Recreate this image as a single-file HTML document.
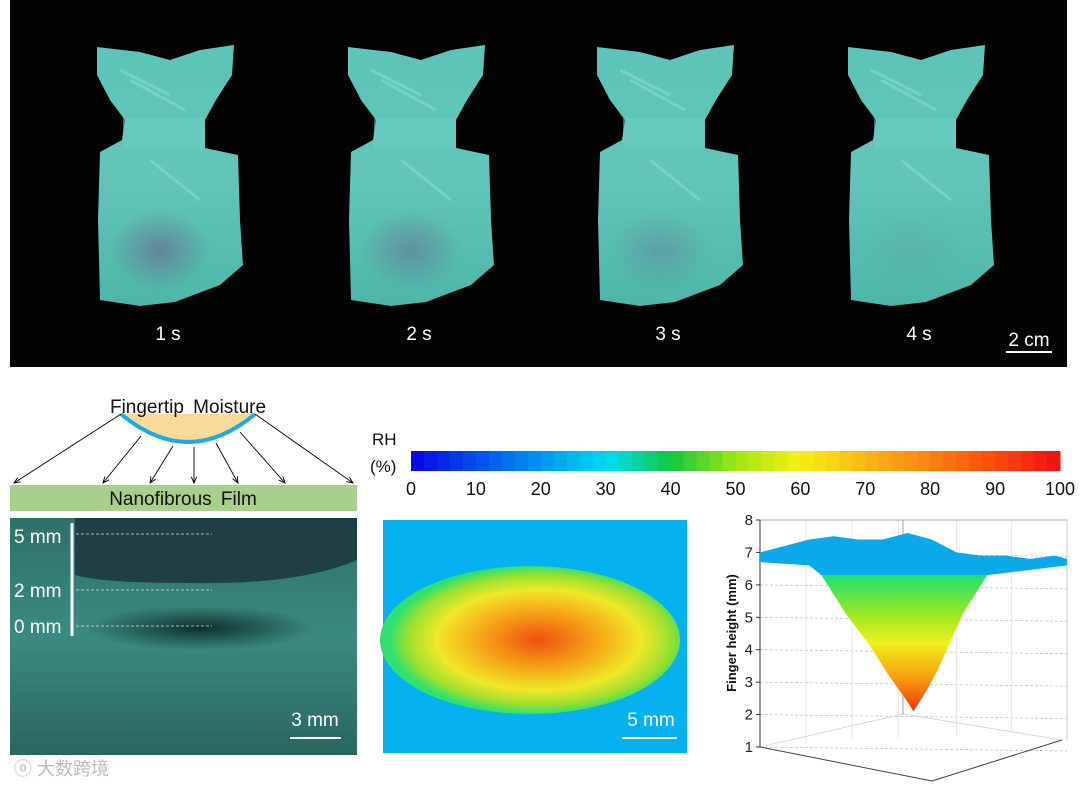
<!DOCTYPE html>
<html><head><meta charset="utf-8">
<style>
html,body{margin:0;padding:0;background:#fff;}
body{width:1080px;height:787px;position:relative;overflow:hidden;font-family:"Liberation Sans",Arial,sans-serif;}
svg{position:absolute;left:0;top:0;}
</style></head>
<body>
<svg id="fig" width="1080" height="787" viewBox="0 0 1080 787">
<defs>
<linearGradient id="bagG" x1="0" y1="0" x2="0" y2="1">
<stop offset="0" stop-color="#5cc4b8"/><stop offset="0.5" stop-color="#62c6b9"/><stop offset="1" stop-color="#4db6a9"/>
</linearGradient>
<radialGradient id="blob" cx="0.5" cy="0.5" r="0.5">
<stop offset="0" stop-color="#6a6a8a" stop-opacity="0.75"/><stop offset="1" stop-color="#6a6a8a" stop-opacity="0"/>
</radialGradient>
<linearGradient id="photoG" x1="0" y1="0" x2="0" y2="1">
<stop offset="0" stop-color="#2e7068"/><stop offset="0.5" stop-color="#3a8a80"/><stop offset="1" stop-color="#2a6660"/>
</linearGradient>
<radialGradient id="darkSpot" cx="0.5" cy="0.5" r="0.5">
<stop offset="0" stop-color="#0d2a26" stop-opacity="0.95"/><stop offset="1" stop-color="#0d2a26" stop-opacity="0"/>
</radialGradient>
<radialGradient id="heatG" cx="0.53" cy="0.5" r="0.5">
<stop offset="0" stop-color="#ee5010"/><stop offset="0.4" stop-color="#f6a818"/><stop offset="0.68" stop-color="#f0e828"/><stop offset="0.88" stop-color="#9ae030"/><stop offset="1" stop-color="#30e070"/>
</radialGradient>
<linearGradient id="vG" x1="0" y1="0" x2="0" y2="1">
<stop offset="0" stop-color="#20e070"/><stop offset="0.3" stop-color="#a0e820"/><stop offset="0.5" stop-color="#f0f020"/><stop offset="0.75" stop-color="#f8a010"/><stop offset="1" stop-color="#f03010"/>
</linearGradient>
<marker id="arr" markerWidth="8" markerHeight="8" refX="7" refY="4" orient="auto"><path d="M0,1 L7,4 L0,7" fill="none" stroke="#000" stroke-width="1"/></marker>
</defs>

<rect x="10" y="0" width="1057" height="367" fill="#030303"/>
<g id="bags"></g>
<line x1="1006" y1="352" x2="1052" y2="352" stroke="#fff" stroke-width="2"/>
<text x="1029" y="346" fill="#fff" font-size="19" text-anchor="middle">2 cm</text>

<g>
<rect x="10" y="485" width="347" height="26" fill="#a8d08c"/>
<text x="183" y="505" font-size="19" text-anchor="middle" fill="#111" word-spacing="4">Nanofibrous Film</text>
<path d="M121,414 Q188,470 255,414 Z" fill="#f8da9a"/>
<path d="M121,414 Q188,470 255,414" fill="none" stroke="#1ea8e8" stroke-width="4"/>
<text x="188" y="413" font-size="19" text-anchor="middle" fill="#111" word-spacing="4">Fingertip Moisture</text>
<g stroke="#000" stroke-width="0.9" marker-end="url(#arr)">
<line x1="121" y1="414" x2="14" y2="483"/>
<line x1="141" y1="436" x2="103" y2="483"/>
<line x1="173" y1="446" x2="150" y2="483"/>
<line x1="194" y1="447" x2="194" y2="483"/>
<line x1="216" y1="443" x2="238" y2="483"/>
<line x1="240" y1="432" x2="285" y2="483"/>
<line x1="255" y1="414" x2="353" y2="483"/>
</g>
</g>

<g>
<rect x="10" y="518" width="347" height="237" fill="url(#photoG)"/>
<path d="M75,518 L357,518 L357,560 Q300,585 190,583 Q100,583 75,575 Z" fill="#1f3f45"/>
<ellipse cx="200" cy="628" rx="115" ry="22" fill="url(#darkSpot)"/>
<line x1="72" y1="523" x2="72" y2="636" stroke="#fff" stroke-width="3"/>
<g stroke="#ddd" stroke-width="0.8" stroke-dasharray="3,2">
<line x1="76" y1="534" x2="212" y2="534"/><line x1="76" y1="590" x2="212" y2="590"/><line x1="76" y1="626" x2="212" y2="626"/>
</g>
<g fill="#fff" font-size="19">
<text x="14" y="543">5 mm</text><text x="14" y="597">2 mm</text><text x="14" y="633">0 mm</text>
<text x="315" y="726" text-anchor="middle">3 mm</text>
</g>
<line x1="290" y1="738" x2="341" y2="738" stroke="#fff" stroke-width="2"/>
<text x="14" y="775" fill="#bbb" font-size="18" font-family="'Liberation Sans','Noto Sans CJK SC',sans-serif">ⓞ 大数跨境</text>
</g>

<g id="cbar"></g>
<text x="372" y="445" font-size="17" fill="#111">RH</text>
<text x="370" y="472" font-size="17" fill="#111">(%)</text>

<g>
<rect x="383" y="520" width="304" height="233" fill="#05b1ee"/>
<ellipse cx="530" cy="640" rx="150" ry="74" fill="url(#heatG)"/>
<line x1="622" y1="738" x2="677" y2="738" stroke="#fff" stroke-width="2"/>
<text x="651" y="726" fill="#fff" font-size="19" text-anchor="middle">5 mm</text>
</g>

<g id="chart3d"></g>
</svg>
<script>
var timeLabels = ["1 s","2 s","3 s","4 s"];
var blobOpacity = [0.9, 0.7, 0.45, 0.15];
var rhTicks = [0,10,20,30,40,50,60,70,80,90,100];
var heightTicks = [1,2,3,4,5,6,7,8];
var profileX   = [0,0.08,0.16,0.24,0.32,0.40,0.48,0.52,0.56,0.64,0.72,0.80,0.88,0.96,1];
var topHeight  = [7.0,7.2,7.4,7.5,7.4,7.4,7.6,7.5,7.4,7.0,6.9,6.9,6.8,6.9,6.8];
var vX       = [0.20,0.28,0.36,0.42,0.48,0.50,0.54,0.58,0.66,0.74];
var vHeight  = [6.3,5.1,4.1,3.2,2.4,2.1,2.7,3.4,5.1,6.3];
var NS="http://www.w3.org/2000/svg";
function mk(tag,attrs,parent){var e=document.createElementNS(NS,tag);for(var k in attrs)e.setAttribute(k,attrs[k]);parent.appendChild(e);return e;}

var bags=document.getElementById('bags');
var bagPath="M97,47 L140,52 L170,60 L200,50 L234,45 L232,75 L216,100 L205,120 L205,148 L238,155 L240,220 L243,265 L220,285 L175,302 L140,306 L100,300 L98,220 L100,152 L122,140 L125,120 L110,100 L97,75 Z";
var bagOffsets=[0,251,500,751];
timeLabels.forEach(function(lbl,i){
  var g=mk('g',{transform:'translate('+bagOffsets[i]+',0)'},bags);
  
  
  mk('path',{d:bagPath,fill:'url(#bagG)'},g);
  mk('rect',{x:123,y:118,width:82,height:30,fill:'#6dd0c4',opacity:0.5},g);
  mk('path',{d:'M130,80 L185,110 M150,160 L200,200 M120,70 L170,95',stroke:'#8ee0d4','stroke-width':3,opacity:0.5,fill:'none'},g);
  mk('ellipse',{cx:160,cy:250,rx:50,ry:40,fill:'url(#blob)',opacity:blobOpacity[i]},g);
  var t=mk('text',{x:168,y:340,fill:'#fff','font-size':19,'text-anchor':'middle'},g);
  t.textContent=lbl;
  
  
});

var cb=document.getElementById('cbar');
var cbX0=411,cbX1=1060;
function cbx(v){return cbX0+(cbX1-cbX0)*v/100;}
function jet(t){var stops=[[0,[10,10,230]],[0.15,[0,120,240]],[0.3,[0,220,240]],[0.4,[20,200,60]],[0.5,[160,230,20]],[0.6,[245,240,20]],[0.75,[250,160,20]],[0.9,[250,80,10]],[1,[240,20,20]]];
 for(var i=1;i<stops.length;i++){if(t<=stops[i][0]){var a=stops[i-1],b=stops[i],f=(t-a[0])/(b[0]-a[0]);return 'rgb('+[0,1,2].map(function(k){return Math.round(a[1][k]+(b[1][k]-a[1][k])*f);}).join(',')+')';}}return 'rgb(240,20,20)';}
for(var s=0;s<50;s++){mk('rect',{x:cbx(s*2),y:451,width:(cbX1-cbX0)/50+0.5,height:20,fill:jet(s/49)},cb);}
rhTicks.forEach(function(v){var t=mk('text',{x:cbx(v),y:495,'font-size':18,'text-anchor':'middle',fill:'#111'},cb);t.textContent=v;
 
 });

var c=document.getElementById('chart3d');
var axX=760, yTop=520, yBot=747, xRight=1067;
function yS(v){return yBot-(v-1)*(yBot-yTop)/7;}
function xS(f){return axX+f*(xRight-axX);}
for(var i=0;i<heightTicks.length;i++){var v=heightTicks[i];
 mk('line',{x1:axX,y1:yS(v),x2:xRight,y2:yS(v)+(v==8?0:4),stroke:'#bbb','stroke-width':0.7,'stroke-dasharray':'3,2'},c);}
[0.15,0.3,0.45,0.64,0.82].forEach(function(f){mk('line',{x1:xS(f),y1:yTop,x2:xS(f),y2:yBot-20*f,stroke:'#ddd','stroke-width':0.7},c);});
mk('path',{d:'M'+axX+','+yBot+' L932,781 L1062,740 L903,714 Z',fill:'none',stroke:'#ccc','stroke-width':0.7},c);
mk('line',{x1:axX,y1:yBot,x2:932,y2:781,stroke:'#444','stroke-width':1},c);
mk('line',{x1:932,y1:781,x2:1062,y2:740,stroke:'#444','stroke-width':1},c);
mk('line',{x1:903,y1:714,x2:903,y2:yTop,stroke:'#888','stroke-width':0.8},c);
mk('line',{x1:axX,y1:yTop,x2:xRight,y2:yTop,stroke:'#999','stroke-width':0.8},c);
mk('line',{x1:xRight,y1:yTop,x2:xRight,y2:740,stroke:'#bbb','stroke-width':0.8},c);
mk('line',{x1:axX,y1:yTop,x2:axX,y2:yBot,stroke:'#333','stroke-width':1},c);
var vp='M'+xS(vX[0])+','+yS(vHeight[0]);
for(var i=1;i<vX.length;i++)vp+=' L'+xS(vX[i])+','+yS(vHeight[i]);
vp+=' Z';
var vpath=mk('path',{d:vp,fill:'url(#vG)'},c);


var bp='M'+xS(profileX[0])+','+yS(topHeight[0]);
for(var i=1;i<profileX.length;i++)bp+=' L'+xS(profileX[i])+','+yS(topHeight[i]);
bp+=' L'+xS(1)+','+yS(6.6)+' L'+xS(0.74)+','+yS(6.3)+' L'+xS(0.2)+','+yS(6.3)+' L'+xS(0.16)+','+yS(6.6)+' L'+xS(0)+','+yS(6.7)+' Z';
var bpath=mk('path',{d:bp,fill:'#0aaaea'},c);


heightTicks.forEach(function(v){mk('line',{x1:axX-4,y1:yS(v),x2:axX,y2:yS(v),stroke:'#333'},c);
 var t=mk('text',{x:axX-7,y:yS(v)+5,'font-size':15,'text-anchor':'end',fill:'#222'},c);t.textContent=v;
 
 });
var yt=mk('text',{x:736,y:633,'font-size':13,'font-weight':'bold','text-anchor':'middle',fill:'#111',transform:'rotate(-90 736 633)'},c);
yt.textContent='Finger height (mm)';


</script>
</body></html>
